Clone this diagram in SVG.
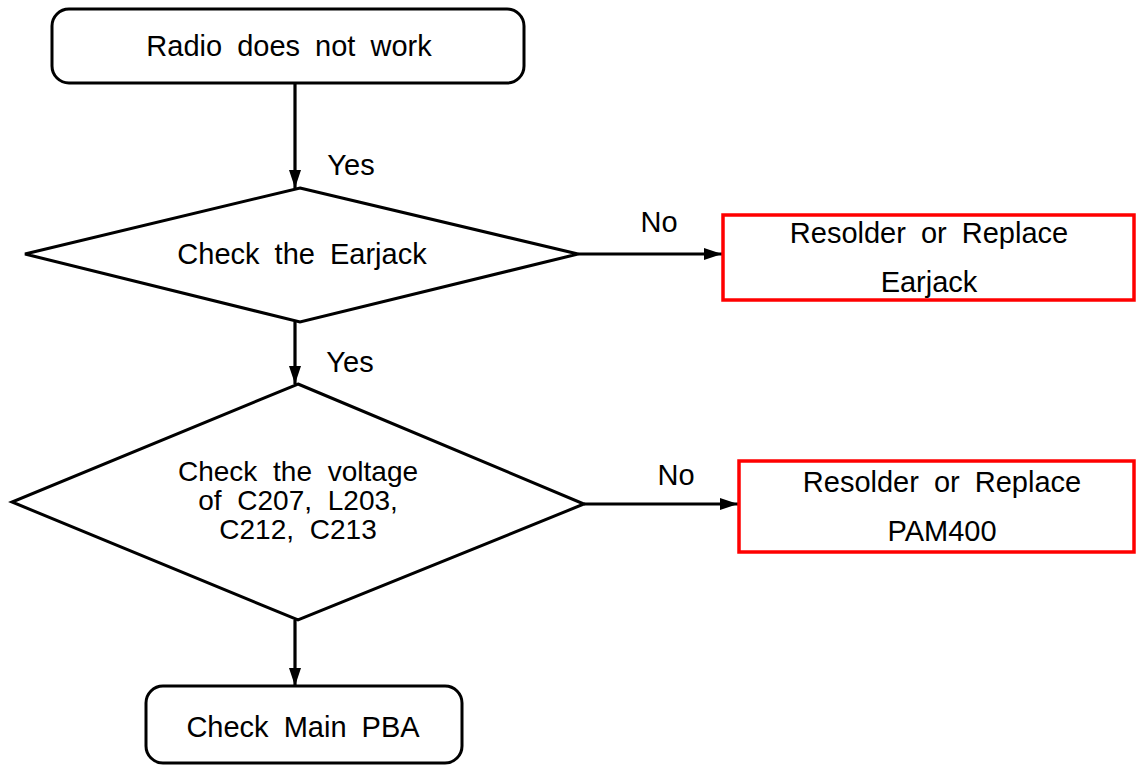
<svg xmlns="http://www.w3.org/2000/svg" width="1136" height="765" viewBox="0 0 1136 765">
<defs>
<style>
.t{font-family:"Liberation Sans",Arial,sans-serif;font-size:29px;fill:#000;text-anchor:middle;word-spacing:7px}
.s{font-size:28px;word-spacing:8px}
.blk{fill:#fff;stroke:#000;stroke-width:3}
.red{fill:#fff;stroke:#f00;stroke-width:3.5}
.c{fill:none;stroke:#000;stroke-width:3.2}
</style>
<marker id="ah" markerUnits="userSpaceOnUse" markerWidth="18" markerHeight="14" viewBox="0 0 18 14" refX="18" refY="7" orient="auto">
<path d="M0,1 L18,7 L0,13 Z" fill="#000"/>
</marker>
</defs>
<rect width="1136" height="765" fill="#fff"/>
<g id="connectors">
<line class="c" x1="295" y1="83" x2="295" y2="188" marker-end="url(#ah)"/>
<line class="c" x1="578" y1="254" x2="722" y2="254" marker-end="url(#ah)"/>
<line class="c" x1="295" y1="322" x2="295" y2="384" marker-end="url(#ah)"/>
<line class="c" x1="584" y1="504" x2="738" y2="504" marker-end="url(#ah)"/>
<line class="c" x1="295" y1="620" x2="295" y2="686" marker-end="url(#ah)"/>
<text class="t" x="351" y="175">Yes</text>
<text class="t" x="659" y="232">No</text>
<text class="t" x="350" y="372">Yes</text>
<text class="t" x="676" y="485">No</text>
</g>
<g id="start">
<rect class="blk" x="52" y="9" width="472" height="74" rx="17"/>
<text class="t" x="289" y="56">Radio does not work</text>
</g>
<g id="dec1">
<polygon class="blk" points="300,188 578,254 300,322 25,254"/>
<text class="t" x="302" y="264">Check the Earjack</text>
</g>
<g id="fix1">
<rect class="red" x="723" y="215" width="411" height="85"/>
<text class="t" x="929" y="243">Resolder or Replace</text>
<text class="t" x="929" y="292">Earjack</text>
</g>
<g id="dec2">
<polygon class="blk" points="298,384 584,504 298,620 12,502"/>
<text class="t s" x="298" y="481">Check the voltage</text>
<text class="t s" x="298" y="510">of C207, L203,</text>
<text class="t s" x="298" y="539">C212, C213</text>
</g>
<g id="fix2">
<rect class="red" x="739" y="461" width="395" height="91"/>
<text class="t" x="942" y="492">Resolder or Replace</text>
<text class="t" x="942" y="541">PAM400</text>
</g>
<g id="end">
<rect class="blk" x="146" y="686" width="316" height="77" rx="17"/>
<text class="t" x="303" y="737">Check Main PBA</text>
</g>
</svg>
